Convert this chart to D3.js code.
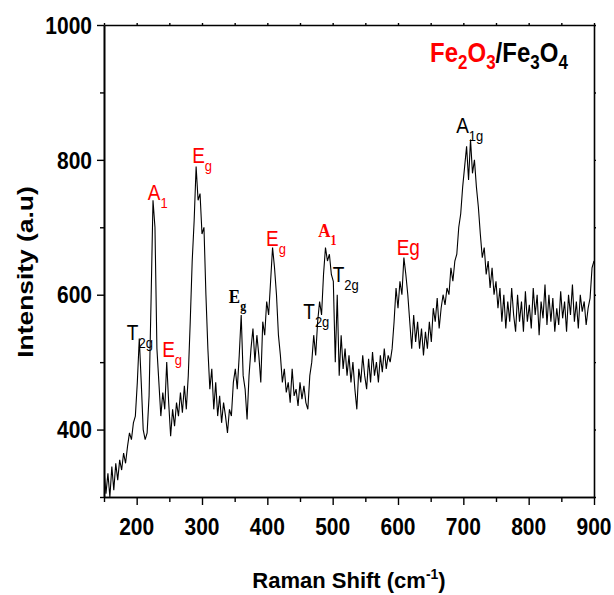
<!DOCTYPE html>
<html>
<head>
<meta charset="utf-8">
<script src="https://cdn.jsdelivr.net/npm/d3@7"></script>
<style>
  body { margin: 0; background: #fff; }
  text { font-family: "Liberation Sans", Arial, sans-serif; }
</style>
</head>
<body>
<div id="chart"></div>
<script>
// Raman shift (cm-1), sampled every 3 cm-1
const ramanShift = [
  150,153,156,159,162,165,168,171,174,177,180,183,186,189,192,195,198,
  201,204,207,210,213,216,219,222,225,228,231,234,237,240,243,246,249,
  252,255,258,261,264,267,270,273,276,279,282,285,288,291,294,297,300,
  303,306,309,312,315,318,321,324,327,330,333,336,339,342,345,348,351,
  354,357,360,363,366,369,372,375,378,381,384,387,390,393,396,399,402,
  405,408,411,414,417,420,423,426,429,432,435,438,441,444,447,450,453,
  456,459,462,465,468,471,474,477,480,483,486,489,492,495,498,501,504,
  507,510,513,516,519,522,525,528,531,534,537,540,543,546,549,552,555,
  558,561,564,567,570,573,576,579,582,585,588,591,594,597,600,603,606,
  609,612,615,618,621,624,627,630,633,636,639,642,645,648,651,654,657,
  660,663,666,669,672,675,678,681,684,687,690,693,696,699,702,705,708,
  711,714,717,720,723,726,729,732,735,738,741,744,747,750,753,756,759,
  762,765,768,771,774,777,780,783,786,789,792,795,798,801,804,807,810,
  813,816,819,822,825,828,831,834,837,840,843,846,849,852,855,858,861,
  864,867,870,873,876,879,882,885,888,891,894,897,900
];

// intensity (a.u)
const intensity = [
  340,305,335,300,345,310,350,325,355,340,365,350,375,395,385,410,420,
  470,535,470,400,385,395,450,590,740,700,520,470,420,455,430,500,440,
  390,430,405,440,420,455,425,465,430,480,560,650,710,790,740,750,690,
  700,600,520,460,490,430,470,420,450,410,440,420,395,430,420,470,490,
  460,510,570,480,460,415,480,520,550,500,540,510,470,560,540,590,570,
  620,670,640,600,540,510,470,490,455,470,440,490,450,460,435,470,445,
  465,440,430,480,500,540,510,560,590,570,630,670,650,660,630,620,500,
  600,480,540,490,520,480,510,470,500,460,430,490,470,510,480,460,505,
  470,515,480,500,470,510,485,520,490,510,500,520,560,610,580,620,600,
  655,630,600,560,520,570,530,560,520,550,510,545,520,560,530,580,560,
  595,550,580,600,585,610,600,640,620,650,660,700,720,760,790,820,770,
  830,780,800,760,730,690,655,670,630,650,610,640,600,620,580,610,560,
  600,550,590,560,610,570,545,600,560,590,545,605,560,585,550,610,570,
  600,540,590,565,615,555,600,560,595,545,580,555,605,565,590,545,600,
  570,615,560,590,550,600,575,590,555,580,595,640,650
];

const xTicks = [200, 300, 400, 500, 600, 700, 800, 900];
const xMinor = [150, 250, 350, 450, 550, 650, 750, 850];
const yTicks = [400, 600, 800, 1000];
const yMinor = [300, 500, 700, 900];

// peak assignments: main letter, subscript, position (shift, intensity)
const peakMain  = ["T", "A", "E", "E", "E", "E", "A", "T", "T", "Eg", "A"];
const peakSub   = ["2g", "1", "g", "g", "g", "g", "1", "2g", "2g", "", "1g"];
const peakShift = [185, 217, 239, 285, 341, 398, 478, 500, 455, 598, 689];
const peakLevel = [533, 740, 508, 795, 588, 672, 686, 619, 564, 659, 840];
// hematite (red) or magnetite (black); serif labels
const peakPhase = ["m", "h", "h", "h", "m", "h", "h", "m", "m", "h", "m"];
const peakSerif = [false, false, false, false, true, false, true, false, false, false, false];

const W = 614, H = 595;
const margin = {top: 25, right: 20, bottom: 98, left: 104};
const iw = W - margin.left - margin.right;
const ih = H - margin.top - margin.bottom;
const sy = 1.15;  // glyphs in the figure are a bit taller than wide

const svg = d3.select("#chart").append("svg")
  .attr("width", W).attr("height", H);

const g = svg.append("g")
  .attr("transform", `translate(${margin.left},${margin.top})`);

const x = d3.scaleLinear().domain([150, 900]).range([0, iw]);
const y = d3.scaleLinear().domain([300, 1000]).range([ih, 0]);

g.append("clipPath").attr("id", "clip")
  .append("rect").attr("width", iw).attr("height", ih);

// spectrum
const pts = ramanShift.map((s, i) => [s, intensity[i]]);
g.append("path")
  .datum(pts)
  .attr("clip-path", "url(#clip)")
  .attr("fill", "none")
  .attr("stroke", "#000")
  .attr("stroke-width", 1.1)
  .attr("d", d3.line().x(d => x(d[0])).y(d => y(d[1])));

// axes
function styleAxis(sel) {
  sel.select(".domain").attr("stroke", "#000").attr("stroke-width", 1.6);
  sel.selectAll(".tick line").attr("stroke", "#000").attr("stroke-width", 1.4);
  sel.selectAll("text").remove();
}

g.append("g").attr("transform", `translate(0,${ih})`)
  .call(d3.axisBottom(x).tickValues(xTicks).tickSize(8).tickSizeOuter(0))
  .call(styleAxis);
g.append("g").attr("transform", `translate(0,${ih})`)
  .call(d3.axisBottom(x).tickValues(xMinor).tickSize(5).tickSizeOuter(0))
  .call(styleAxis);
g.append("g")
  .call(d3.axisLeft(y).tickValues(yTicks).tickSize(7).tickSizeOuter(0))
  .call(styleAxis);
g.append("g")
  .call(d3.axisLeft(y).tickValues(yMinor).tickSize(4).tickSizeOuter(0))
  .call(styleAxis);
// top and right frame, tiny outward ticks
g.append("g")
  .call(d3.axisTop(x).tickValues(xTicks.concat(xMinor)).tickSize(2).tickSizeOuter(0))
  .call(styleAxis);
g.append("g").attr("transform", `translate(${iw},0)`)
  .call(d3.axisRight(y).tickValues(yTicks.concat(yMinor)).tickSize(2).tickSizeOuter(0))
  .call(styleAxis);

// tick labels
g.selectAll(".xl").data(xTicks).join("text")
  .attr("class", "xl")
  .attr("transform", d => `translate(${x(d)},${ih + 38}) scale(1,${sy})`)
  .attr("text-anchor", "middle")
  .attr("font-size", 21).attr("font-weight", "bold")
  .text(d => d);

g.selectAll(".yl").data(yTicks).join("text")
  .attr("class", "yl")
  .attr("transform", d => `translate(-12,${y(d)}) scale(1,${sy})`)
  .attr("text-anchor", "end")
  .attr("dy", "0.36em")
  .attr("font-size", 21).attr("font-weight", "bold")
  .text(d => d);

// axis titles
const xt = svg.append("text")
  .attr("transform", `translate(${margin.left + iw / 2},588)`)
  .attr("text-anchor", "middle")
  .attr("font-size", 22).attr("font-weight", "bold");
xt.append("tspan").text("Raman Shift (cm");
xt.append("tspan").attr("font-size", 14).attr("dy", -9).text("-1");
xt.append("tspan").attr("dy", 9).text(")");

svg.append("text")
  .attr("transform", `translate(33,272) scale(1,${sy + 0.05}) rotate(-90)`)
  .attr("text-anchor", "middle")
  .attr("font-size", 22).attr("font-weight", "bold")
  .text("Intensity (a.u)");

// formula legend
const lg = svg.append("text")
  .attr("transform", `translate(430,62) scale(1,${sy})`)
  .attr("font-size", 24).attr("font-weight", "bold");
const legendParts = [
  ["Fe", false, "red"], ["2", true, "red"], ["O", false, "red"], ["3", true, "red"],
  ["/Fe", false, "#000"], ["3", true, "#000"], ["O", false, "#000"], ["4", true, "#000"]
];
let low = false;
legendParts.forEach(([t, sub, c]) => {
  const dy = sub === low ? 0 : (sub ? 6 : -6);
  lg.append("tspan").attr("fill", c).attr("dy", dy)
    .attr("font-size", sub ? 17 : 24).text(t);
  low = sub;
});

// peak labels
peakMain.forEach((m, i) => {
  const serif = peakSerif[i];
  const t = g.append("text")
    .attr("transform", `translate(${x(peakShift[i])},${y(peakLevel[i])}) scale(1,${sy})`)
    .attr("fill", peakPhase[i] === "h" ? "red" : "#000")
    .attr("font-size", serif ? 17 : 19)
    .attr("font-weight", serif ? "bold" : "normal")
    .style("font-family", serif ? "'Liberation Serif', 'Times New Roman', serif" : null);
  t.append("tspan").text(m);
  if (peakSub[i]) {
    t.append("tspan").attr("dy", 7).attr("font-size", serif ? 12 : 13).text(peakSub[i]);
  }
});
</script>
</body>
</html>
